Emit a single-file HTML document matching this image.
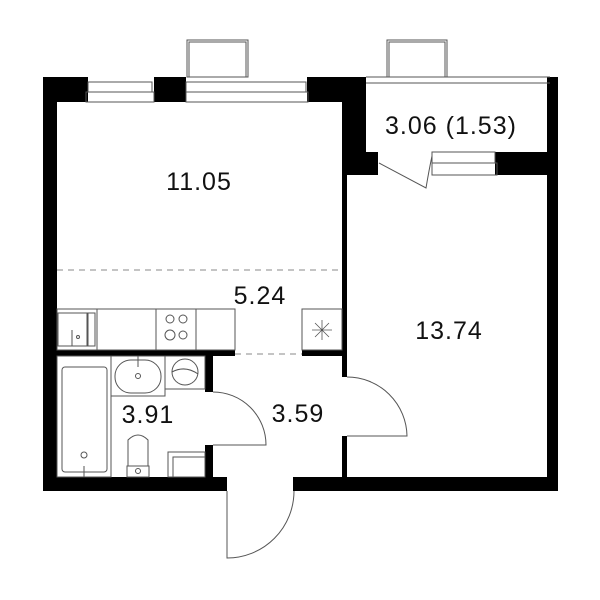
<!DOCTYPE html>
<html><head><style>html,body{margin:0;padding:0;background:#fff}svg{display:block}text{font-family:"Liberation Sans",sans-serif;fill:#111}</style></head>
<body>
<svg width="600" height="600" viewBox="0 0 600 600" xmlns="http://www.w3.org/2000/svg">
<g fill="none" stroke="#555" stroke-width="1">
<rect x="187" y="40" width="61" height="37"/><rect x="189" y="42" width="57" height="35"/>
<rect x="387" y="40" width="60" height="37"/><rect x="389" y="42" width="56" height="35"/>
</g>
<g fill="#000">
<rect x="43" y="77" width="14" height="414"/>
<rect x="43" y="77" width="45" height="25"/>
<rect x="154" y="77" width="32" height="25"/>
<rect x="307" y="77" width="59" height="25"/>
<rect x="342" y="77" width="24" height="98"/>
<rect x="342" y="152" width="36" height="23"/>
<rect x="342" y="152" width="5" height="225"/>
<rect x="342" y="436" width="5" height="50"/>
<rect x="495" y="152" width="63" height="23"/>
<rect x="547" y="77" width="11" height="414"/>
<rect x="43" y="477" width="184" height="14"/>
<rect x="293" y="477" width="265" height="14"/>
<rect x="43" y="350" width="192" height="6"/>
<rect x="302" y="350" width="45" height="6"/>
<rect x="205" y="356" width="8" height="36"/>
<rect x="205" y="445" width="8" height="32"/>
</g>
<g fill="none" stroke="#555" stroke-width="1">
<rect x="88" y="82" width="64" height="10"/><rect x="86" y="92" width="68" height="10"/>
<rect x="186" y="82" width="120" height="10"/><rect x="186" y="92" width="122" height="10"/>
<line x1="366" y1="77" x2="550" y2="77"/><line x1="366" y1="83" x2="550" y2="83"/>
<rect x="432" y="152" width="63" height="11"/><rect x="432" y="163" width="65" height="12"/>
<path d="M379 163 L426 188 Q429 170 432 156"/>
<path d="M213 392 A53 53 0 0 1 266 445 L213 445"/>
<path d="M347 377 A60 60 0 0 1 407 436 L347 436"/>
<path d="M227 491 L227 558 A67 67 0 0 0 294 491"/>
<line x1="57" y1="270" x2="342" y2="270" stroke-dasharray="6,5" stroke="#888"/>
<line x1="235" y1="354" x2="302" y2="354" stroke-dasharray="6,5" stroke="#888"/>
<rect x="57" y="309" width="178" height="41"/>
<line x1="97" y1="309" x2="97" y2="350"/><line x1="156" y1="309" x2="156" y2="350"/><line x1="196" y1="309" x2="196" y2="350"/>
<rect x="58" y="313" width="29" height="33"/>
<rect x="88" y="313" width="7" height="33"/>
<line x1="72" y1="330" x2="72" y2="346"/><circle cx="78" cy="337" r="1.5"/>
<circle cx="170" cy="319" r="4"/><circle cx="183" cy="319" r="4"/>
<circle cx="170" cy="335" r="5"/><circle cx="183" cy="335" r="4"/>
<rect x="302" y="309" width="40" height="41"/>
<path d="M312 330 L332 330 M322 320 L322 340 M315 323 L329 337 M329 323 L315 337" stroke-width="0.8"/>
<rect x="57" y="356" width="54" height="121"/>
<rect x="62" y="367" width="45" height="105" rx="3"/>
<circle cx="84" cy="455" r="3"/><line x1="84" y1="466" x2="84" y2="477"/>
<rect x="111" y="356" width="54" height="40"/>
<rect x="115" y="360" width="46" height="33" rx="16"/>
<circle cx="138" cy="376" r="2.5"/><line x1="138" y1="356" x2="138" y2="367"/>
<rect x="165" y="356" width="40" height="33"/>
<circle cx="185" cy="372" r="13"/><path d="M172 372 Q185 365 198 374"/>
<path d="M128 466 L128 440 Q138 430 148 440 L148 466"/>
<rect x="127" y="466" width="22" height="11"/><circle cx="138" cy="471" r="2.5"/>
<rect x="168" y="452" width="37" height="25"/><rect x="173" y="457" width="32" height="20"/>
</g>
<g font-size="25" text-anchor="middle" letter-spacing="1">
<text x="199" y="190">11.05</text>
<text x="260" y="304">5.24</text>
<text x="449" y="339">13.74</text>
<text x="148" y="423">3.91</text>
<text x="298" y="422">3.59</text>
<text x="451" y="134">3.06 (1.53)</text>
</g>
</svg>
</body></html>
